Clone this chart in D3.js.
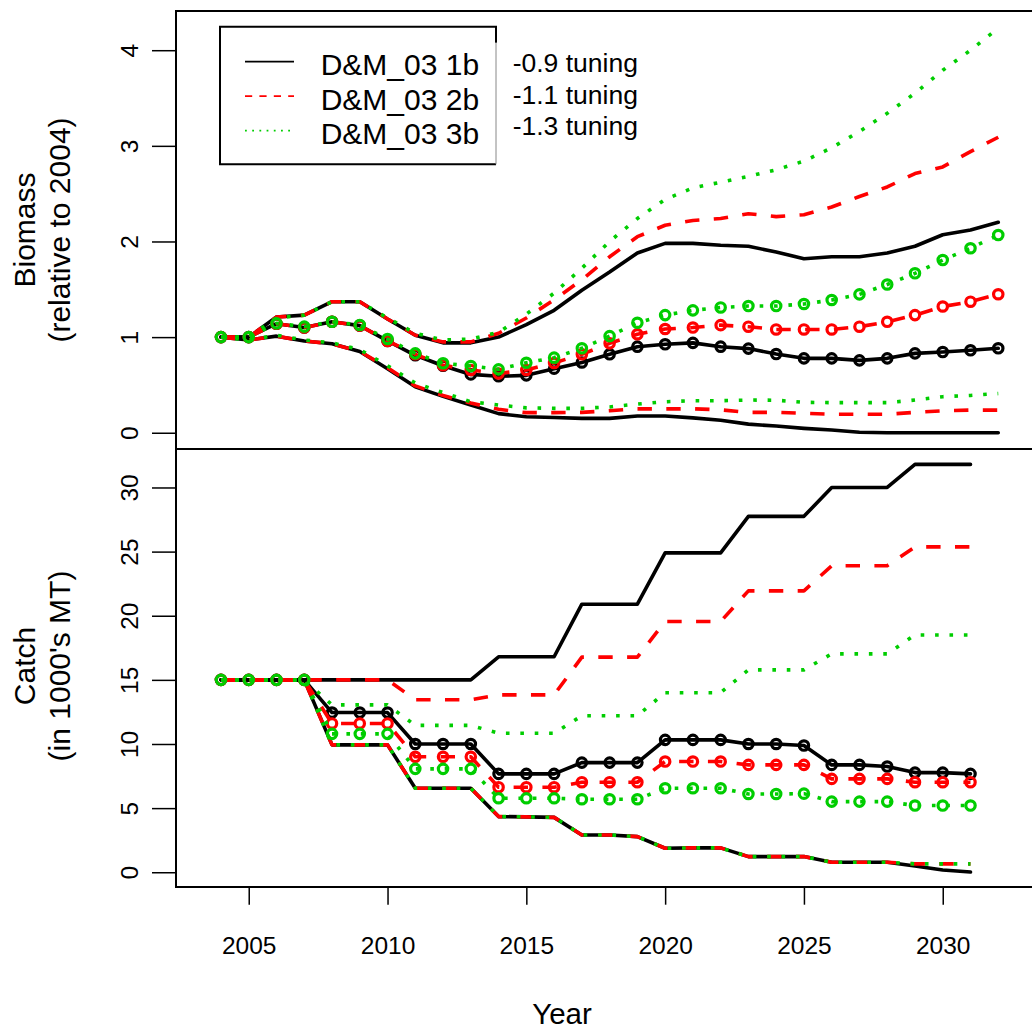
<!DOCTYPE html>
<html>
<head>
<meta charset="utf-8">
<script src="https://cdn.jsdelivr.net/npm/d3@7"></script>
<style>
  body { margin: 0; background: #fff; }
  text { font-family: "Liberation Sans", Arial, Helvetica, sans-serif; fill: #000; }
</style>
</head>
<body>
<svg id="chart" width="1032" height="1030"></svg>
<script>
// ---- Biomass (relative to 2004), projection years 2004-2032 ----
const bioYears = [2004, 2005, 2006, 2007, 2008, 2009, 2010, 2011, 2012, 2013, 2014, 2015, 2016, 2017, 2018,
                  2019, 2020, 2021, 2022, 2023, 2024, 2025, 2026, 2027, 2028, 2029, 2030, 2031, 2032];

// D&M_03 1b (-0.9 tuning)
const bioHi1  = [1.00, 1.00, 1.21, 1.23, 1.37, 1.37, 1.19, 1.02, 0.94, 0.94, 1.00, 1.13, 1.28, 1.49, 1.68,
                 1.88, 1.98, 1.98, 1.96, 1.95, 1.89, 1.82, 1.84, 1.84, 1.88, 1.95, 2.07, 2.12, 2.20];
const bioMed1 = [1.00, 1.00, 1.14, 1.10, 1.16, 1.12, 0.96, 0.81, 0.70, 0.61, 0.59, 0.60, 0.67, 0.735, 0.82,
                 0.90, 0.925, 0.94, 0.90, 0.88, 0.823, 0.778, 0.778, 0.757, 0.778, 0.83, 0.844, 0.862, 0.883];
const bioLo1  = [1.00, 0.97, 1.01, 0.96, 0.93, 0.85, 0.67, 0.48, 0.38, 0.29, 0.20, 0.167, 0.16, 0.15, 0.15,
                 0.175, 0.175, 0.155, 0.13, 0.09, 0.07, 0.046, 0.028, 0.005, 0, 0, 0, 0, 0];
// D&M_03 2b (-1.1 tuning)
const bioHi2  = [1.00, 1.00, 1.21, 1.23, 1.37, 1.37, 1.19, 1.02, 0.95, 0.95, 1.04, 1.20, 1.39, 1.60, 1.84,
                 2.05, 2.17, 2.22, 2.24, 2.29, 2.26, 2.28, 2.36, 2.47, 2.57, 2.71, 2.78, 2.94, 3.09];
const bioMed2 = [1.00, 1.00, 1.14, 1.10, 1.16, 1.12, 0.96, 0.82, 0.705, 0.656, 0.62, 0.656, 0.73, 0.82, 0.935,
                 1.03, 1.085, 1.10, 1.125, 1.109, 1.08, 1.08, 1.08, 1.109, 1.16, 1.23, 1.32, 1.37, 1.448];
const bioLo2  = [1.00, 0.97, 1.01, 0.96, 0.93, 0.85, 0.68, 0.49, 0.39, 0.31, 0.245, 0.21, 0.21, 0.213, 0.23,
                 0.25, 0.25, 0.25, 0.24, 0.213, 0.213, 0.203, 0.193, 0.193, 0.193, 0.213, 0.23, 0.237, 0.237];
// D&M_03 3b (-1.3 tuning)
const bioHi3  = [1.00, 1.00, 1.20, 1.23, 1.37, 1.37, 1.20, 1.04, 0.97, 0.98, 1.05, 1.24, 1.46, 1.72, 2.00,
                 2.24, 2.44, 2.56, 2.62, 2.68, 2.75, 2.84, 2.98, 3.15, 3.34, 3.55, 3.79, 4.00, 4.23];
const bioMed3 = [1.00, 1.00, 1.144, 1.11, 1.16, 1.127, 0.98, 0.83, 0.726, 0.698, 0.663, 0.732, 0.785, 0.883, 1.01,
                 1.15, 1.23, 1.28, 1.31, 1.325, 1.325, 1.346, 1.388, 1.447, 1.55, 1.667, 1.806, 1.929, 2.067];
const bioLo3  = [1.00, 0.97, 1.02, 0.97, 0.94, 0.87, 0.70, 0.52, 0.42, 0.324, 0.29, 0.26, 0.255, 0.255, 0.27,
                 0.30, 0.324, 0.335, 0.335, 0.342, 0.34, 0.318, 0.315, 0.315, 0.315, 0.342, 0.377, 0.39, 0.41];

// ---- Catch (1000's MT), years 2004-2031 ----
const catchYears = [2004, 2005, 2006, 2007, 2008, 2009, 2010, 2011, 2012, 2013, 2014, 2015, 2016, 2017,
                    2018, 2019, 2020, 2021, 2022, 2023, 2024, 2025, 2026, 2027, 2028, 2029, 2030, 2031];

const catchHi1  = [15, 15, 15, 15, 15, 15, 15, 15, 15, 15, 16.8, 16.8, 16.8, 20.9,
                   20.9, 20.9, 24.9, 24.9, 24.9, 27.75, 27.75, 27.75, 30.0, 30.0, 30.0, 31.8, 31.8, 31.8];
const catchMed1 = [15, 15, 15, 15, 12.45, 12.45, 12.45, 10.0, 10.0, 10.0, 7.67, 7.67, 7.67, 8.55,
                   8.55, 8.55, 10.32, 10.32, 10.32, 10.0, 10.0, 9.88, 8.37, 8.37, 8.24, 7.77, 7.77, 7.67];
const catchLo1  = [15, 15, 15, 15, 9.93, 9.93, 9.93, 6.55, 6.55, 6.55, 4.34, 4.32, 4.28, 2.91,
                   2.91, 2.78, 1.87, 1.9, 1.9, 1.22, 1.22, 1.22, 0.78, 0.78, 0.78, 0.49, 0.18, 0.02];

const catchHi2  = [15, 15, 15, 15, 15, 15, 15, 13.45, 13.45, 13.45, 13.83, 13.83, 13.83, 16.77,
                   16.77, 16.77, 19.55, 19.55, 19.55, 21.94, 21.94, 21.94, 23.9, 23.9, 23.9, 25.37, 25.37, 25.37];
const catchMed2 = [15, 15, 15, 15, 11.6, 11.6, 11.6, 9.0, 9.0, 9.0, 6.63, 6.63, 6.63, 7.02,
                   7.02, 7.02, 8.63, 8.63, 8.63, 8.37, 8.37, 8.37, 7.28, 7.28, 7.28, 7.02, 7.02, 7.02];
const catchLo2  = [15, 15, 15, 15, 9.93, 9.93, 9.93, 6.55, 6.55, 6.55, 4.34, 4.32, 4.28, 2.91,
                   2.91, 2.78, 1.87, 1.9, 1.9, 1.22, 1.22, 1.22, 0.78, 0.78, 0.78, 0.65, 0.65, 0.65];

const catchHi3  = [15, 15, 15, 15, 13.05, 13.05, 13.05, 11.45, 11.45, 11.45, 10.84, 10.84, 10.84, 12.2,
                   12.2, 12.2, 14.0, 14.0, 14.0, 15.78, 15.78, 15.78, 17.03, 17.03, 17.03, 18.5, 18.5, 18.5];
const catchMed3 = [15, 15, 15, 15, 10.79, 10.79, 10.79, 8.06, 8.06, 8.06, 5.77, 5.77, 5.77, 5.69,
                   5.69, 5.69, 6.55, 6.55, 6.55, 6.1, 6.1, 6.13, 5.51, 5.51, 5.51, 5.2, 5.2, 5.2];
const catchLo3  = [15, 15, 15, 15, 9.93, 9.93, 9.93, 6.55, 6.55, 6.55, 4.34, 4.32, 4.28, 2.91,
                   2.91, 2.78, 1.87, 1.9, 1.9, 1.22, 1.22, 1.22, 0.78, 0.78, 0.78, 0.65, 0.65, 0.65];

// ---- Legend / labels ----
const scenarioNames = ["D&M_03 1b", "D&M_03 2b", "D&M_03 3b"];
const tuningLabels = ["-0.9 tuning", "-1.1 tuning", "-1.3 tuning"];
const bioTicks = [0, 1, 2, 3, 4];
const catchTicks = [0, 5, 10, 15, 20, 25, 30];
const yearTicks = [2005, 2010, 2015, 2020, 2025, 2030];

// ---- Drawing ----
const svg = d3.select("#chart");
svg.append("rect").attr("width", 1032).attr("height", 1030).attr("fill", "#fff");

const x = d3.scaleLinear().domain([2002.38, 2036]).range([176, 1109.3]);
const yBio = d3.scaleLinear().domain([-0.17, 4.41]).range([449, 11]);
const yCatch = d3.scaleLinear().domain([-1.15, 33.0]).range([887, 449]);

const lwd = 3.6;
const styles = [
  { color: "#000000", dash: null, cap: "round" },
  { color: "#ff0000", dash: "14.4,14.4", cap: "butt" },
  { color: "#00cd00", dash: "3.6,10.8", cap: "butt" }
];

const bioSets = [
  { hi: bioHi1, med: bioMed1, lo: bioLo1 },
  { hi: bioHi2, med: bioMed2, lo: bioLo2 },
  { hi: bioHi3, med: bioMed3, lo: bioLo3 }
];
const catchSets = [
  { hi: catchHi1, med: catchMed1, lo: catchLo1 },
  { hi: catchHi2, med: catchMed2, lo: catchLo2 },
  { hi: catchHi3, med: catchMed3, lo: catchLo3 }
];

// upper, median (with open circles) and lower trajectories for each scenario
function drawPanel(years, sets, y) {
  const g = svg.append("g");
  const line = d3.line().x((d, i) => x(years[i])).y(d => y(d));
  sets.forEach((s, k) => {
    const st = styles[k];
    const sg = g.append("g");
    [s.hi, s.med, s.lo].forEach(vals => {
      sg.append("path")
        .attr("d", line(vals))
        .attr("fill", "none")
        .attr("stroke", st.color)
        .attr("stroke-width", lwd)
        .attr("stroke-linejoin", "round")
        .attr("stroke-linecap", st.cap)
        .attr("stroke-dasharray", st.dash);
    });
    sg.selectAll("circle")
      .data(s.med)
      .join("circle")
      .attr("cx", (d, i) => x(years[i]))
      .attr("cy", d => y(d))
      .attr("r", 4.7)
      .attr("fill", "none")
      .attr("stroke", st.color)
      .attr("stroke-width", 3.2);
  });
}

drawPanel(bioYears, bioSets, yBio);
drawPanel(catchYears, catchSets, yCatch);

// panel frames
svg.append("rect").attr("x", 176).attr("y", 11).attr("width", 1000).attr("height", 438)
  .attr("fill", "none").attr("stroke", "#000").attr("stroke-width", 2);
svg.append("rect").attr("x", 176).attr("y", 449).attr("width", 1000).attr("height", 438)
  .attr("fill", "none").attr("stroke", "#000").attr("stroke-width", 2);

// y axes with rotated labels
function leftAxis(scale, ticks) {
  const g = svg.append("g").attr("transform", "translate(176,0)")
    .call(d3.axisLeft(scale).tickValues(ticks).tickSize(24).tickFormat(d3.format("d")));
  g.select(".domain").remove();
  g.selectAll(".tick line").attr("stroke", "#000").attr("stroke-width", 1.5);
  g.selectAll(".tick text")
    .attr("transform", "rotate(-90)")
    .attr("x", 0).attr("y", -37.7).attr("dy", null)
    .attr("text-anchor", "middle")
    .style("font-size", "24.5px")
    .style("font-family", "'Liberation Sans', Arial, sans-serif")
    .attr("fill", "#000");
}
leftAxis(yBio, bioTicks);
leftAxis(yCatch, catchTicks);

// x axis
const gx = svg.append("g").attr("transform", "translate(0,887)")
  .call(d3.axisBottom(x).tickValues(yearTicks).tickSize(17.7).tickFormat(d3.format("d")));
gx.select(".domain").remove();
gx.selectAll(".tick line").attr("stroke", "#000").attr("stroke-width", 1.5);
gx.selectAll(".tick text")
  .attr("y", 58).attr("dy", "0.35em")
  .style("font-size", "24.5px")
  .style("font-family", "'Liberation Sans', Arial, sans-serif")
  .attr("fill", "#000");

// axis titles
svg.append("text").attr("x", 562).attr("y", 1024).attr("text-anchor", "middle")
  .style("font-size", "29.5px").text("Year");

function yTitle(lines, cy) {
  lines.forEach((t, i) => {
    svg.append("text")
      .attr("transform", `translate(${35 + i * 35.4},${cy}) rotate(-90)`)
      .attr("text-anchor", "middle")
      .style("font-size", "30px")
      .text(t);
  });
}
yTitle(["Biomass", "(relative to 2004)"], 230);
yTitle(["Catch", "(in 1000's MT)"], 666);

// legend
const lg = svg.append("g");
lg.append("path")
  .attr("d", "M496,42.7 L496,26.7 L220,26.7 L220,164.3 L496,164.3")
  .attr("fill", "none").attr("stroke", "#000").attr("stroke-width", 2);
lg.append("line").attr("x1", 496).attr("x2", 496).attr("y1", 42.7).attr("y2", 164.3)
  .attr("stroke", "#888").attr("stroke-width", 1);
const rowY = [61.7, 96.2, 130.7];
scenarioNames.forEach((name, k) => {
  const st = styles[k];
  lg.append("line")
    .attr("x1", 245).attr("x2", 294).attr("y1", rowY[k]).attr("y2", rowY[k])
    .attr("stroke", st.color).attr("stroke-width", 1.8)
    .attr("stroke-dasharray", st.dash ? st.dash.split(",").map(v => +v / 2).join(",") : null);
  lg.append("text").attr("x", 320.7).attr("y", rowY[k] + 13.3)
    .style("font-size", "30px").text(name);
});
const tuneY = [71.7, 103.5, 134.5];
tuningLabels.forEach((t, k) => {
  svg.append("text").attr("x", 512.7).attr("y", tuneY[k])
    .style("font-size", "26.5px").text(t);
});
</script>
</body>
</html>
